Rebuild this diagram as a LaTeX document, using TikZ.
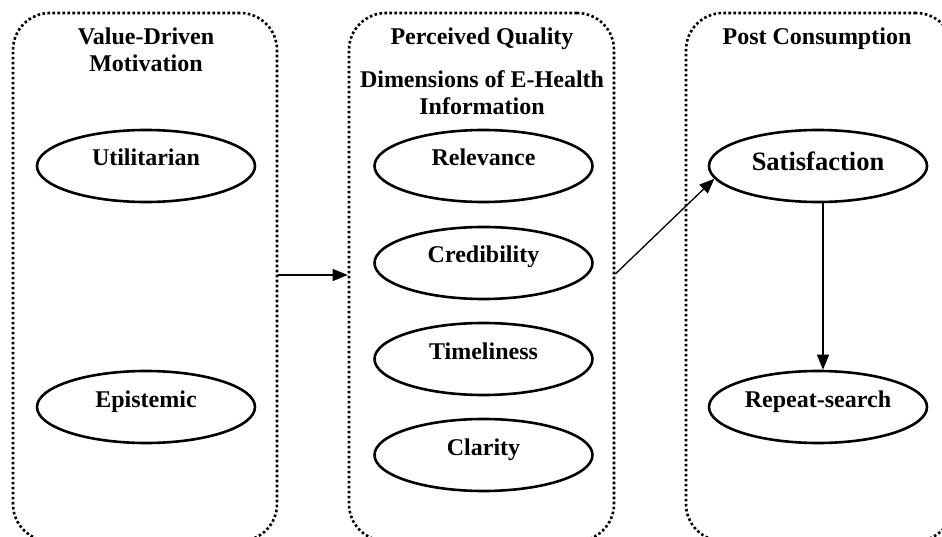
\documentclass[tikz,border=0pt]{standalone}
\usepackage{fontspec}
\setmainfont{Liberation Serif}
\usetikzlibrary{arrows.meta,shapes.geometric}
\begin{document}
\begin{tikzpicture}[x=1pt,y=-1pt,
  groupbox/.style={draw, line width=2.6pt, dash pattern=on 2.6pt off 2.4pt,
    rounded corners=37pt, minimum height=528pt, inner sep=0pt},
  oval/.style={draw, ellipse, line width=2.6pt, minimum width=218pt, minimum height=72pt,
    inner sep=0pt, font=\fontsize{24}{27}\selectfont\bfseries, text height=17pt, text depth=17pt},
  bigoval/.style={oval, font=\fontsize{26.5}{30}\selectfont\bfseries, text height=20pt, text depth=10pt},
  grouptitle/.style={font=\fontsize{24}{27}\selectfont\bfseries, align=center, anchor=base, inner sep=0pt},
  arr/.style={line width=1.3pt, -{Triangle[length=15pt,width=12pt]}}]
\useasboundingbox (0,0) rectangle (942,537);
\clip (0,0) rectangle (942,537);

% group boxes
\node[groupbox, minimum width=264pt] (lbox) at (145,277) {};
\node[groupbox, minimum width=265pt] (mbox) at (481.5,277) {};
\node[groupbox, minimum width=267pt] (rbox) at (819.5,277) {};

% titles (base = baseline of the last line)
\node[grouptitle] (t1) at (146,72) {Value-Driven\\Motivation};
\node[grouptitle] (t2) at (482,45) {Perceived Quality};
\node[grouptitle] (t3) at (482,115) {Dimensions of E-Health\\Information};
\node[grouptitle] (t4) at (817,45) {Post Consumption};

% ellipses
\node[oval] (util) at (146,166) {Utilitarian};
\node[oval] (epis) at (146,407) {Epistemic};
\node[oval] (rel) at (483.5,166) {Relevance};
\node[oval] (cred) at (483.5,263) {Credibility};
\node[oval] (time) at (483.5,359) {Timeliness};
\node[oval] (clar) at (483.5,455) {Clarity};
\node[bigoval] (sat) at (818,166) {Satisfaction};
\node[oval] (rep) at (818,407) {Repeat-search};

% connectors
\draw[arr] ([yshift=2pt]lbox.east) -- ([yshift=2pt]mbox.west);
\draw[arr] ([yshift=3pt]mbox.east) -- (sat.187);
\draw[arr] ([xshift=5pt]sat.south) -- ([xshift=5pt]rep.north);
\end{tikzpicture}
\end{document}
